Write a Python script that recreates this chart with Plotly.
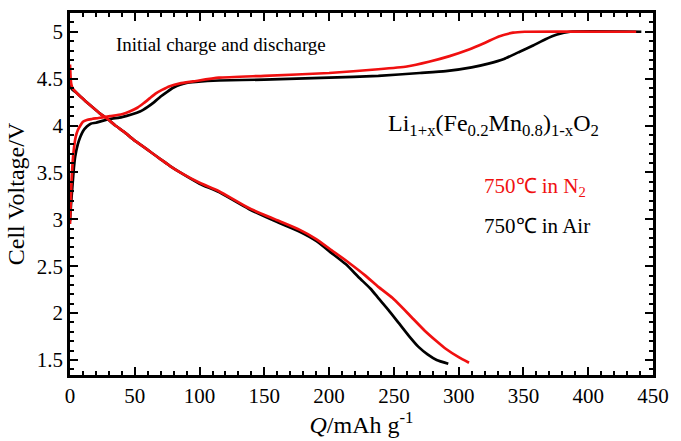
import plotly.graph_objects as go

# Charge curves
q_chg_air = [0, 0.5, 1, 2, 3, 4, 6, 8, 10, 13, 16, 20, 25, 31, 40, 48, 54, 60, 65, 70, 75, 80, 85, 90, 97, 115, 150, 200, 238, 270, 290, 310, 323, 335, 346, 357, 367, 376, 386, 441]
v_chg_air = [2.98, 3.1, 3.2, 3.38, 3.55, 3.67, 3.8, 3.88, 3.94, 3.99, 4.02, 4.03, 4.05, 4.07, 4.09, 4.12, 4.15, 4.2, 4.25, 4.31, 4.36, 4.405, 4.435, 4.455, 4.465, 4.48, 4.49, 4.51, 4.53, 4.56, 4.58, 4.62, 4.66, 4.71, 4.78, 4.85, 4.92, 4.97, 5.0, 5.0]

q_chg_n2 = [0, 0.5, 1, 2, 3, 4, 5, 6, 8, 10, 13, 17, 22, 31, 40, 46, 52, 57, 61.5, 66, 71, 77, 85, 95, 115, 150, 200, 238, 260, 277, 293, 308, 320, 331, 342, 351, 437]
v_chg_n2 = [2.95, 3.15, 3.35, 3.6, 3.75, 3.85, 3.91, 3.95, 4.0, 4.04, 4.06, 4.07, 4.08, 4.1, 4.12, 4.15, 4.19, 4.24, 4.29, 4.34, 4.38, 4.42, 4.45, 4.47, 4.51, 4.53, 4.56, 4.60, 4.63, 4.68, 4.74, 4.81, 4.88, 4.95, 4.99, 5.0, 5.0]

# Discharge curves
q_dis_air = [0, 0.5, 1, 2, 3, 5, 8, 12, 17, 23, 29, 35, 42, 49, 56, 63, 70, 77, 85, 100, 115, 138, 160, 177, 190, 202, 213, 223, 232, 238, 246, 254, 262, 269, 276, 283, 292]
v_dis_air = [4.46, 4.42, 4.4, 4.38, 4.37, 4.35, 4.31, 4.26, 4.2, 4.13, 4.07, 4.0, 3.93, 3.85, 3.78, 3.71, 3.64, 3.57, 3.5, 3.38, 3.29, 3.11, 2.97, 2.87, 2.77, 2.64, 2.52, 2.38, 2.26, 2.16, 2.03, 1.89, 1.75, 1.64, 1.56, 1.5, 1.46]

q_dis_n2 = [0, 0.5, 1, 2, 3, 5, 8, 12, 17, 23, 29, 35, 42, 49, 56, 63, 70, 77, 85, 100, 115, 138, 160, 177, 190, 202, 215, 228, 238, 249, 262, 274, 283, 290, 300, 308]
v_dis_n2 = [4.65, 4.5, 4.44, 4.4, 4.38, 4.35, 4.31, 4.26, 4.2, 4.13, 4.07, 4.0, 3.93, 3.85, 3.78, 3.71, 3.64, 3.57, 3.5, 3.39, 3.3, 3.12, 2.99, 2.89, 2.79, 2.67, 2.54, 2.40, 2.28, 2.16, 1.98, 1.81, 1.7, 1.62, 1.53, 1.47]

x_ticks = [0, 50, 100, 150, 200, 250, 300, 350, 400, 450]
y_ticks = [1.5, 2, 2.5, 3, 3.5, 4, 4.5, 5]
y_tick_labels = ["1.5", "2", "2.5", "3", "3.5", "4", "4.5", "5"]

RED = "#f01010"
BLACK = "#000000"
FONT = "Liberation Serif, Times New Roman, serif"
X_RANGE = [0, 450]
Y_RANGE = [1.34, 5.2]

fig = go.Figure()
for q, v, c in [(q_chg_air, v_chg_air, BLACK), (q_dis_air, v_dis_air, BLACK),
                (q_chg_n2, v_chg_n2, RED), (q_dis_n2, v_dis_n2, RED)]:
    fig.add_trace(go.Scatter(x=q, y=v, mode="lines", line=dict(color=c, width=2.7, shape="spline", smoothing=0.5),
                             showlegend=False, hoverinfo="skip"))

axis_common = dict(showgrid=False, zeroline=False, showline=True, linecolor="black", linewidth=2.5,
                   ticks="inside", ticklen=8, tickwidth=2, tickcolor="black",
                   tickfont=dict(family=FONT, size=21, color="black"))
minor_common = dict(ticks="inside", ticklen=4, tickwidth=1.5, tickcolor="black")

fig.update_layout(
    xaxis=dict(range=X_RANGE, tickvals=x_ticks, minor=dict(dtick=10, tick0=0, **minor_common),
               title=dict(text="<i>Q</i>/mAh g<sup>-1</sup>", font=dict(family=FONT, size=24, color="black"), standoff=4),
               **axis_common),
    yaxis=dict(range=Y_RANGE, tickvals=y_ticks, ticktext=y_tick_labels,
               minor=dict(dtick=0.1, tick0=0, **minor_common),
               title=dict(text="Cell Voltage/V", font=dict(family=FONT, size=24, color="black"), standoff=6),
               **axis_common),
    xaxis2=dict(range=X_RANGE, overlaying="x", side="top", tickvals=x_ticks, showticklabels=False,
                minor=dict(dtick=10, tick0=0, **minor_common), anchor="y", **axis_common),
    yaxis2=dict(range=Y_RANGE, overlaying="y", side="right", tickvals=y_ticks, showticklabels=False,
                minor=dict(dtick=0.1, tick0=0, **minor_common), anchor="x", **axis_common),
)
# invisible trace to activate mirror axes
fig.add_trace(go.Scatter(x=[None], y=[None], xaxis="x2", yaxis="y2", showlegend=False, hoverinfo="skip"))

fig.add_annotation(x=34, y=4.86, xref="x", yref="y", text="Initial charge and discharge", showarrow=False,
                   xanchor="left", yanchor="middle", font=dict(family=FONT, size=19, color="black"))
fig.add_annotation(x=244, y=4.01, xref="x", yref="y",
                   text="Li<sub>1+x</sub>(Fe<sub>0.2</sub>Mn<sub>0.8</sub>)<sub>1-x</sub>O<sub>2</sub>",
                   showarrow=False, xanchor="left", yanchor="middle", font=dict(family=FONT, size=24, color="black"))
fig.add_annotation(x=318, y=3.35, xref="x", yref="y", text="750℃ in N<sub>2</sub>", showarrow=False,
                   xanchor="left", yanchor="middle", font=dict(family=FONT, size=21, color=RED))
fig.add_annotation(x=318, y=2.93, xref="x", yref="y", text="750℃ in Air", showarrow=False,
                   xanchor="left", yanchor="middle", font=dict(family=FONT, size=21, color="black"))

fig.update_layout(width=681, height=441, margin=dict(l=70, r=26, t=13, b=64),
                  paper_bgcolor="white", plot_bgcolor="white")

fig.write_html("out.html")
